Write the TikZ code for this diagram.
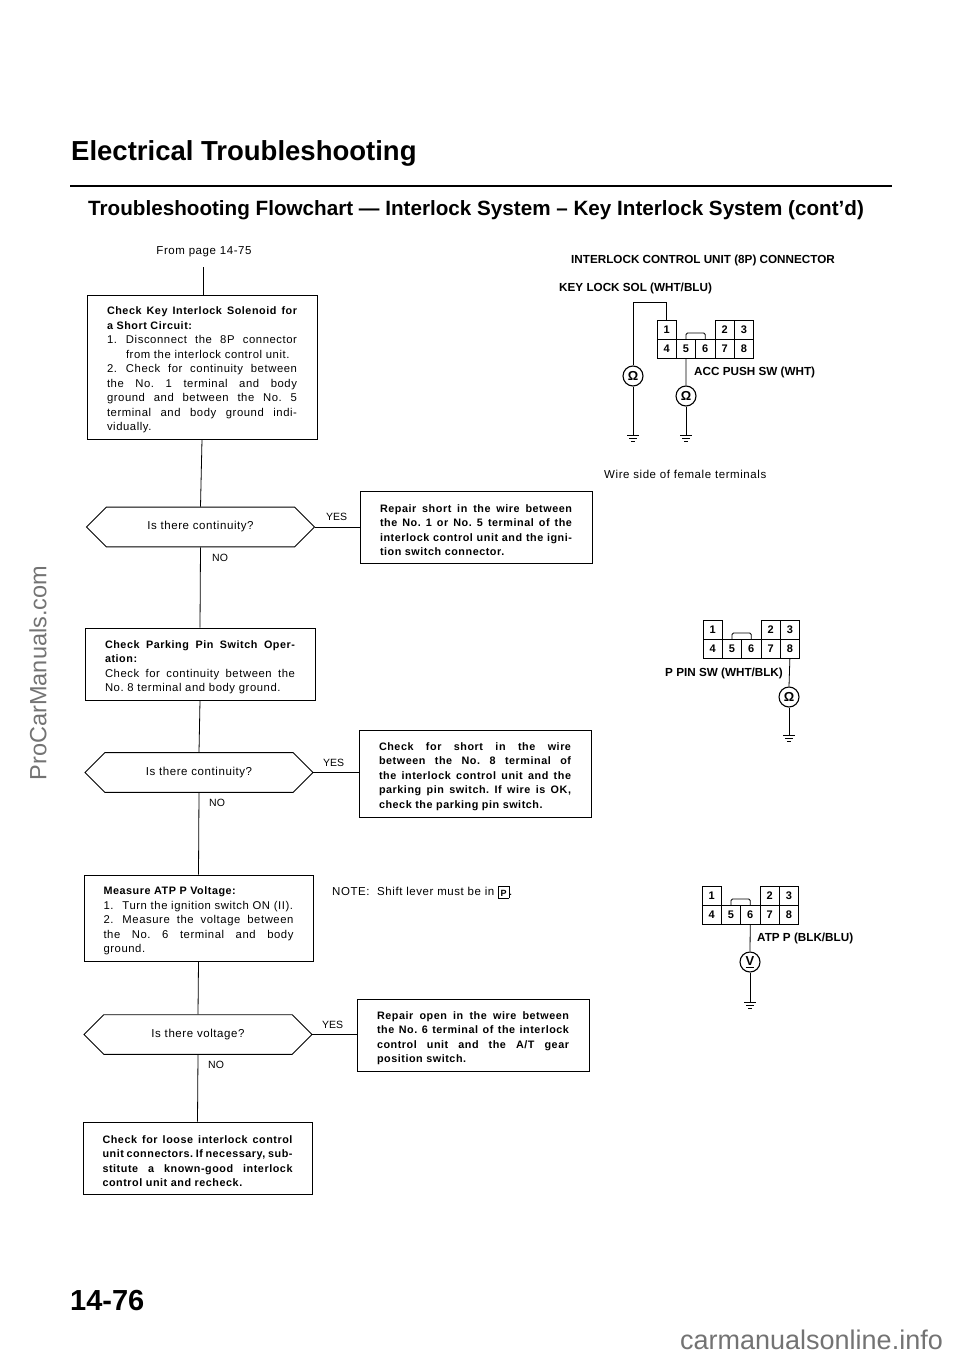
\documentclass[tikz,border=0pt]{standalone}
\usepackage{fontspec}
\setmainfont{Liberation Sans}
\newfontfamily\flowfont[LetterSpace=5]{Liberation Sans}
\usetikzlibrary{positioning,calc,shapes.misc}

\tikzset{
  stepbox/.style={rectangle, draw, line width=0.8pt, text width=190pt, inner xsep=20pt,
    inner ysep=0pt, align=justify, execute at begin node={\frenchspacing\rule{0pt}{14pt}},
    font=\flowfont\fontsize{11.3}{14.5}\selectfont},
  stepbold/.style={stepbox, font=\flowfont\fontsize{10.8}{14.5}\selectfont\bfseries},
  query/.style={chamfered rectangle, draw, line width=0.8pt, chamfered rectangle xsep=19pt,
    chamfered rectangle ysep=14.5pt, inner sep=0pt, minimum width=228pt, minimum height=29pt,
    font=\flowfont\fontsize{11.5}{14}\selectfont},
  tag/.style={font=\fontsize{10.5}{12}\selectfont, inner sep=0pt},
  remark/.style={font=\flowfont\fontsize{11.5}{14}\selectfont, inner sep=0pt, anchor=west},
  wirename/.style={font=\fontsize{11.7}{13}\selectfont\bfseries, inner sep=0pt, anchor=west},
  pin/.style={rectangle, draw, line width=0.8pt, minimum width=19.3pt, minimum height=19.4pt,
    inner sep=0pt, font=\fontsize{11}{12}\selectfont\bfseries},
  meter/.style={circle, draw, line width=1.1pt, minimum size=20pt, inner sep=0pt,
    font=\fontsize{13}{14}\selectfont\bfseries},
  wire/.style={line width=0.8pt},
  flow/.style={line width=0.8pt}
}

% heading inside a step box
\newcommand{\boxhead}[1]{{\fontsize{10.8}{14.5}\selectfont\bfseries #1\par}}
% numbered line with its hanging text
\newcommand{\listline}[1]{\hangindent=19pt\hangafter=1\makebox[19pt][l]{#1}}
% connector face: name, left edge, top edge
\newcommand{\pinblock}[3]{
  \foreach \n/\col/\row in {1/0/0,2/3/0,3/4/0,4/0/1,5/1/1,6/2/1,7/3/1,8/4/1}
    \node[pin] (#1\n) at ({#2+9.65+19.3*\col},{#3+9.7+19.4*\row}) {\n};
  \draw[wire, rounded corners=1.5pt] (#15.north) -- ++(0,-6) -| (#16.north);
}
% body ground below a named point
\newcommand{\earth}[1]{
  \draw[wire] ($(#1)+(-6,0)$) -- ++(12,0) ($(#1)+(-4,3)$) -- ++(8,0) ($(#1)+(-2,6)$) -- ++(4,0);
}

\begin{document}
\begin{tikzpicture}[x=1pt,y=-1pt]
  \useasboundingbox (0,0) rectangle (960,1356);

  % page heading
  \node[inner sep=0pt, anchor=west, font=\fontsize{27.5}{30}\selectfont\bfseries] (title) at (71,153) {Electrical Troubleshooting};
  \node[inner sep=0pt, anchor=west, font=\fontsize{20.65}{24}\selectfont\bfseries] (subtitle) at (88,210) {Troubleshooting Flowchart — Interlock System – Key Interlock System (cont’d)};
  \coordinate (ruleL) at (70,186);
  \coordinate (ruleR) at (892,186);
  \draw[line width=1.8pt] (ruleL) -- (ruleR);

  % flow, left column
  \node[remark, anchor=center] (from) at (204,252) {From page 14-75};
  \coordinate (start) at (203,267);
  \node[stepbox, minimum height=144pt] (check1) at (202,367) {\boxhead{Check Key Interlock Solenoid for\linebreak a Short Circuit:}\listline{1.}Disconnect the 8P connector\linebreak from the interlock control unit.\par\listline{2.}Check for continuity between\linebreak the No. 1 terminal and body\linebreak ground and between the No. 5\linebreak terminal and body ground indi-\linebreak vidually.};
  \node[query] (ask1) at (200.5,527) {Is there continuity?};
  \node[stepbox, minimum height=72pt] (check2) at (200,664) {\boxhead{Check Parking Pin Switch Oper-\linebreak ation:}Check for continuity between the\linebreak No. 8 terminal and body ground.};
  \node[query] (ask2) at (199,772.5) {Is there continuity?};
  \node[stepbox, inner xsep=19.5pt, minimum height=86pt] (check3) at (198.5,918) {\boxhead{Measure ATP P Voltage:}\listline{1.}Turn the ignition switch ON (II).\par\listline{2.}Measure the voltage between\linebreak the No. 6 terminal and body\linebreak ground.};
  \node[query] (ask3) at (198,1034.5) {Is there voltage?};
  \node[stepbold, inner xsep=19.5pt, minimum height=72pt] (check4) at (197.5,1158) {Check for loose interlock control\linebreak unit connectors. If necessary, sub-\linebreak stitute a known-good interlock\linebreak control unit and recheck.};

  % flow, repair boxes
  \node[stepbold, text width=192pt, minimum height=72pt] (fix1) at (476,527) {Repair short in the wire between\linebreak the No. 1 or No. 5 terminal of the\linebreak interlock control unit and the igni-\linebreak tion switch connector.};
  \node[stepbold, text width=192pt, minimum height=87pt] (fix2) at (475,773.5) {Check for short in the wire\linebreak between the No. 8 terminal of\linebreak the interlock control unit and the\linebreak parking pin switch. If wire is OK,\linebreak check the parking pin switch.};
  \node[stepbold, text width=192pt, minimum height=72pt] (fix3) at (473,1035) {Repair open in the wire between\linebreak the No. 6 terminal of the interlock\linebreak control unit and the A/T gear\linebreak position switch.};

  \draw[flow] (start) -- (start |- check1.north);
  \draw[flow] (check1.south) -- (ask1.north);
  \draw[flow] (ask1.south) -- (check2.north);
  \draw[flow] (check2.south) -- (ask2.north);
  \draw[flow] (ask2.south) -- (check3.north);
  \draw[flow] (check3.south) -- (ask3.north);
  \draw[flow] (ask3.south) -- (check4.north);
  \draw[flow] (ask1.east) -- (fix1.west |- ask1.east);
  \draw[flow] (ask2.east) -- (fix2.west |- ask2.east);
  \draw[flow] (ask3.east) -- (fix3.west |- ask3.east);

  \node[tag, anchor=west] (yes1) at (326,517) {YES};
  \node[tag, anchor=west] (no1) at (212,558) {NO};
  \node[tag, anchor=west] (yes2) at (323,763) {YES};
  \node[tag, anchor=west] (no2) at (209,803) {NO};
  \node[tag, anchor=west] (yes3) at (322,1025) {YES};
  \node[tag, anchor=west] (no3) at (208,1065) {NO};

  \node[remark] (note) at (332,892) {NOTE:\ \ Shift lever must be in \raisebox{-2.5pt}{\setlength{\fboxsep}{0pt}\framebox[11pt][c]{\rule{0pt}{11pt}\raisebox{1.5pt}{\fontsize{9}{9}\selectfont\bfseries P}}}.};

  % connector views
  \node[wirename] (unitname) at (571,260) {INTERLOCK CONTROL UNIT (8P) CONNECTOR};
  \node[wirename] (solname) at (559,288) {KEY LOCK SOL (WHT/BLU)};
  \pinblock{a}{657}{320}
  \node[meter] (ohmA) at (633,376) {Ω};
  \node[meter] (ohmB) at (686,396) {Ω};
  \coordinate (corner) at (633,302);
  \coordinate (earthA) at (633,435);
  \coordinate (earthB) at (686,435);
  \draw[wire] (a1.north) |- (corner) -- (ohmA.north);
  \draw[wire] (ohmA.south) -- (earthA);
  \earth{earthA}
  \draw[wire] (a5.south) -- (ohmB.north);
  \draw[wire] (ohmB.south) -- (earthB);
  \earth{earthB}
  \node[wirename] (accname) at (694,372) {ACC PUSH SW (WHT)};
  \node[remark] (side) at (604,474) {Wire side of female terminals};

  \pinblock{b}{703}{620}
  \node[meter] (ohmC) at (789,697) {Ω};
  \coordinate (earthC) at (789,735);
  \draw[wire] (b8.south) -- (ohmC.north);
  \draw[wire] (ohmC.south) -- (earthC);
  \earth{earthC}
  \node[wirename] (pinname) at (665,673) {P PIN SW (WHT/BLK)};

  \pinblock{c}{702}{886}
  \node[meter] (voltC) at (750,962) {\underline{V}};
  \coordinate (earthD) at (750,1002);
  \draw[wire] (c6.south) -- (voltC.north);
  \draw[wire] (voltC.south) -- (earthD);
  \earth{earthD}
  \node[wirename] (atpname) at (757,938) {ATP P (BLK/BLU)};

  % page number and margin marks
  \node[inner sep=0pt, anchor=west, font=\fontsize{29}{32}\selectfont\bfseries] (page) at (70,1300) {14-76};
  \node[inner sep=0pt, rotate=90, text=black!55, font=\fontsize{23.5}{26}\selectfont] (siteA) at (38,673) {ProCarManuals.com};
  \node[inner sep=0pt, text=black!55, font=\fontsize{27}{29}\selectfont] (siteB) at (811.5,1340) {carmanualsonline.info};
\end{tikzpicture}
\end{document}
